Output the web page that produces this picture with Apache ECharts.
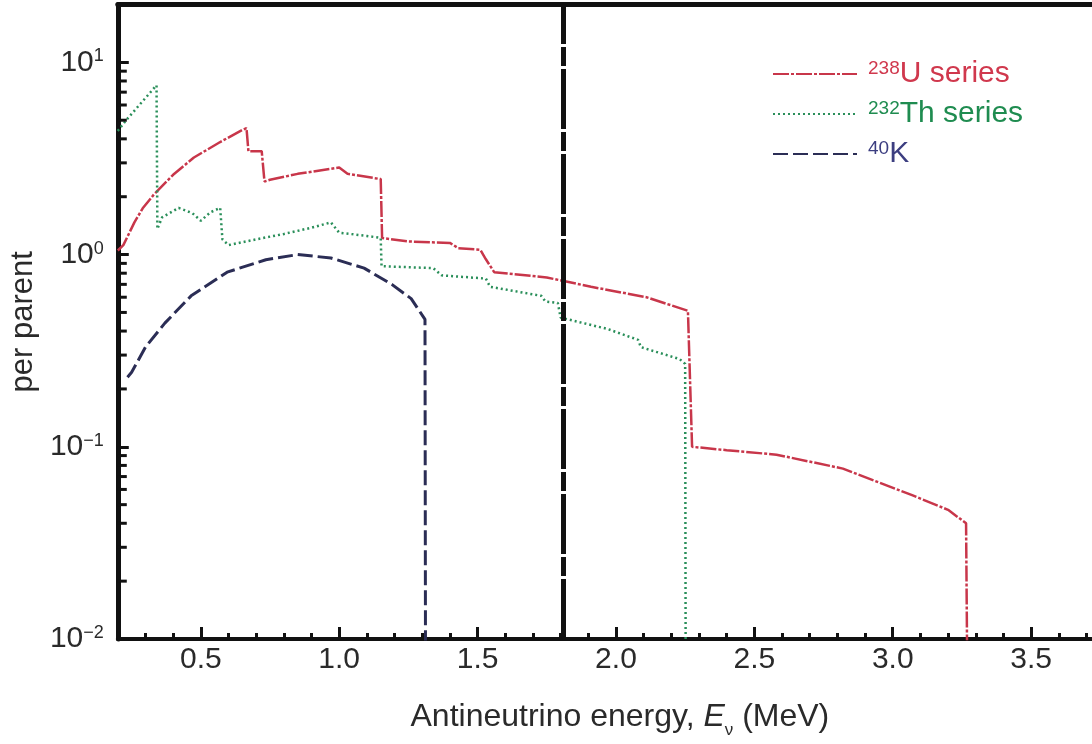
<!DOCTYPE html>
<html>
<head>
<meta charset="utf-8">
<script src="https://cdn.jsdelivr.net/npm/echarts@6/dist/echarts.min.js"></script>
<style>html,body{margin:0;padding:0;background:#fff}#chart{width:1092px;height:744px}</style>
</head>
<body>
<div id="chart"></div>
<script>
// ---- data ----
const uEnergy = [0.20,0.22,0.26,0.29,0.33,0.40,0.475,0.57,0.65,0.665,0.672,0.72,0.73,0.75,0.85,1.00,1.03,1.15,1.155,1.25,1.40,1.43,1.51,1.53,1.56,1.75,1.91,2.11,2.26,2.275,2.40,2.58,2.82,3.07,3.20,3.265,3.27];
const uValues = [1.05,1.12,1.47,1.74,2.05,2.60,3.20,3.85,4.45,4.55,3.45,3.45,2.40,2.45,2.63,2.84,2.63,2.47,1.22,1.17,1.15,1.08,1.06,0.945,0.81,0.76,0.68,0.60,0.51,0.100,0.096,0.091,0.077,0.056,0.047,0.040,0.005];

const thEnergy = [0.20,0.23,0.34,0.343,0.36,0.42,0.47,0.50,0.535,0.57,0.578,0.60,0.70,0.80,0.90,0.97,1.00,1.10,1.15,1.153,1.34,1.37,1.53,1.545,1.73,1.745,1.79,1.80,1.97,2.08,2.09,2.23,2.25,2.252];
const thValues = [4.4,5.0,7.6,1.36,1.56,1.75,1.64,1.50,1.66,1.75,1.20,1.12,1.20,1.28,1.38,1.47,1.30,1.25,1.22,0.87,0.85,0.78,0.75,0.68,0.61,0.57,0.56,0.47,0.41,0.36,0.33,0.286,0.27,0.005];

const kEnergy = [0.235,0.25,0.30,0.37,0.465,0.595,0.735,0.85,0.97,1.09,1.19,1.26,1.31,1.312];
const kValues = [0.23,0.244,0.33,0.44,0.61,0.81,0.94,1.00,0.96,0.85,0.70,0.59,0.46,0.005];

const seriesNames = ['238U series','232Th series','40K'];
const legendSup = ['238','232','40'];
const legendMain = ['U series','Th series','K'];

const thresholdEnergy = 1.81;

const xTickValues = [0.5,1.0,1.5,2.0,2.5,3.0,3.5];
const xTickLabels = ['0.5','1.0','1.5','2.0','2.5','3.0','3.5'];
const xMinorTicks = [0.3,0.4,0.6,0.7,0.8,0.9,1.1,1.2,1.3,1.4,1.6,1.7,1.8,1.9,2.1,2.2,2.3,2.4,2.6,2.7,2.8,2.9,3.1,3.2,3.3,3.4,3.6,3.7];

const yTickValues = [0.01,0.1,1,10];
const yTickExponents = ['\u22122','\u22121','0','1'];
const yMinorTicks = [0.02,0.03,0.04,0.05,0.06,0.07,0.08,0.09,0.2,0.3,0.4,0.5,0.6,0.7,0.8,0.9,2,3,4,5,6,7,8,9];

const X_MIN = 0.2, X_MAX = 3.72, Y_MIN = 0.01, Y_MAX = 20;

// ---- chart ----
const FONT = "'Liberation Sans', Arial, Helvetica, sans-serif";
const TXT = '#2a2a2a';
const zip = (a, b) => a.map((v, i) => [v, b[i]]);

const chart = echarts.init(document.getElementById('chart'), null, {renderer: 'canvas'});

const baseX = {
  type: 'value', min: X_MIN, max: X_MAX,
  splitLine: {show: false}
};

const option = {
  animation: false,
  backgroundColor: '#ffffff',
  grid: {left: 117, right: -1, top: 4.5, bottom: 102, containLabel: false},
  legend: {
    orient: 'vertical', left: 772, top: 59,
    itemWidth: 84, itemHeight: 14, itemGap: 10,
    padding: 0,
    itemStyle: {opacity: 0, borderWidth: 0},
    data: [
      {name: seriesNames[0], textStyle: {color: '#d0384d'}},
      {name: seriesNames[1], textStyle: {color: '#1f8c50'}},
      {name: seriesNames[2], textStyle: {color: '#3c3e80'}}
    ],
    formatter: function (name) {
      const i = seriesNames.indexOf(name);
      return '{sup|' + legendSup[i] + '}{main|' + legendMain[i] + '}';
    },
    textStyle: {
      fontFamily: FONT, fontSize: 30, padding: [0, 0, 0, 6],
      rich: {
        sup: {fontFamily: FONT, fontSize: 19, lineHeight: 30, verticalAlign: 'top'},
        main: {fontFamily: FONT, fontSize: 30, lineHeight: 30}
      }
    }
  },
  xAxis: [
    Object.assign({}, baseX, {
      position: 'bottom',
      axisLine: {show: true, onZero: false, lineStyle: {color: '#111', width: 4}},
      axisTick: {show: true, inside: true, length: 12, customValues: xTickValues, lineStyle: {color: '#111', width: 3}},
      axisLabel: {
        show: true, customValues: xTickValues, margin: 6,
        fontFamily: FONT, fontSize: 30, color: TXT,
        formatter: function (v) {
          const i = xTickValues.findIndex(t => Math.abs(t - v) < 1e-6);
          return i < 0 ? '' : xTickLabels[i];
        }
      },
      name: 'Antineutrino energy, {it|E}{sub|\u03BD} (MeV)',
      nameLocation: 'middle', nameGap: 56,
      nameTextStyle: {
        fontFamily: FONT, fontSize: 32, color: TXT, padding: [0, 0, 0, 30],
        rich: {
          it: {fontFamily: FONT, fontSize: 32, fontStyle: 'italic', color: TXT},
          sub: {fontFamily: FONT, fontSize: 17, color: TXT, verticalAlign: 'bottom', lineHeight: 44}
        }
      }
    }),
    Object.assign({}, baseX, {
      position: 'bottom',
      axisLine: {show: false, onZero: false},
      axisTick: {show: true, inside: true, length: 6, customValues: xMinorTicks, lineStyle: {color: '#111', width: 3}},
      axisLabel: {show: false}
    }),
    Object.assign({}, baseX, {
      position: 'top',
      axisLine: {show: true, onZero: false, lineStyle: {color: '#111', width: 5}},
      axisTick: {show: false},
      axisLabel: {show: false}
    })
  ],
  yAxis: {
    type: 'log', logBase: 10, min: Y_MIN, max: Y_MAX,
    axisLine: {show: true, onZero: false, lineStyle: {color: '#111', width: 5}},
    axisTick: {show: true, inside: true, length: 11, lineStyle: {color: '#111', width: 3}},
    axisLabel: {
      margin: 14, showMaxLabel: false,
      fontFamily: FONT, fontSize: 30, color: TXT,
      formatter: function (v) {
        const i = yTickValues.findIndex(t => Math.abs(Math.log10(t) - Math.log10(v)) < 1e-6);
        return i < 0 ? '' : '10{sup|' + yTickExponents[i] + '}';
      },
      rich: {
        sup: {fontFamily: FONT, fontSize: 18, color: TXT, verticalAlign: 'top', lineHeight: 30}
      }
    },
    splitLine: {show: false},
    name: 'per parent', nameLocation: 'middle', nameGap: 74,
    nameTextStyle: {fontFamily: FONT, fontSize: 31, color: TXT}
  },
  series: [
    {
      name: seriesNames[0], type: 'line', xAxisIndex: 0, symbol: 'none', z: 3,
      data: zip(uEnergy, uValues),
      lineStyle: {color: '#c8364a', width: 2.5, type: [16, 2, 3, 2]},
      itemStyle: {color: '#c8364a'},
      markLine: {
        silent: true, symbol: ['none', 'none'], label: {show: false},
        lineStyle: {color: '#111', width: 5, type: [60, 3, 19, 3]},
        data: [{xAxis: thresholdEnergy}]
      }
    },
    {
      name: seriesNames[1], type: 'line', xAxisIndex: 0, symbol: 'none', z: 3,
      data: zip(thEnergy, thValues),
      lineStyle: {color: '#2a8f5a', width: 2.5, type: [2, 3]},
      itemStyle: {color: '#2a8f5a'}
    },
    {
      name: seriesNames[2], type: 'line', xAxisIndex: 0, symbol: 'none', z: 3,
      data: zip(kEnergy, kValues),
      lineStyle: {color: '#2b2d55', width: 3, type: [15, 5]},
      itemStyle: {color: '#2b2d55'}
    },
    {
      name: 'yMinorTicks', type: 'custom', xAxisIndex: 0, silent: true, z: 5, clip: false,
      data: yMinorTicks.map(v => [X_MIN, v]),
      renderItem: function (params, api) {
        const p = api.coord([api.value(0), api.value(1)]);
        return {type: 'line', shape: {x1: p[0], y1: p[1], x2: p[0] + 9, y2: p[1]}, style: {stroke: '#111', lineWidth: 3}};
      }
    }
  ]
};

chart.setOption(option);
</script>
</body>
</html>
